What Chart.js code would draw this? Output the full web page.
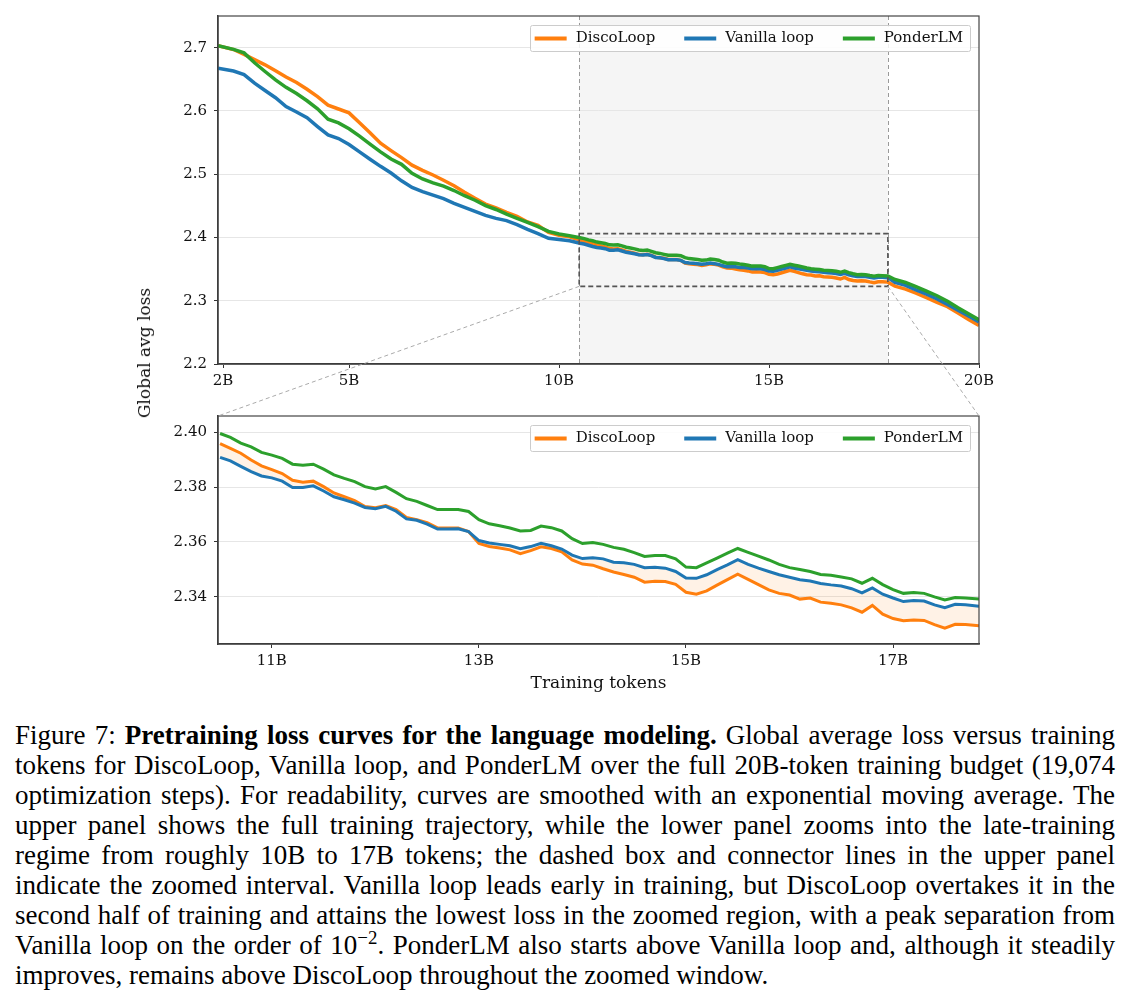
<!DOCTYPE html>
<html>
<head>
<meta charset="utf-8">
<script src="https://cdn.jsdelivr.net/npm/chart.js@4.4.1/dist/chart.umd.min.js"></script>
<style>
  body { margin: 0; background: #fff; }
  #page { position: relative; width: 1130px; height: 1001px; overflow: hidden; background: #fff; }
  .panel { position: absolute; left: 0; }
  #overlay { position: absolute; left: 0; top: 0; pointer-events: none; }
  #ylabel {
    position: absolute; left: 144px; top: 353px; white-space: nowrap;
    transform: translate(-50%, -50%) rotate(-90deg);
    font-family: "DejaVu Serif", serif; font-size: 17px; color: #111;
  }
  #caption {
    position: absolute; left: 15px; top: 720px; width: 1100px;
    font-family: "Liberation Serif", "Times New Roman", serif; font-size: 27px;
    line-height: 30px; color: #000;
  }
  #caption .ln { white-space: nowrap; text-align: justify; text-align-last: justify; height: 30px; }
  #caption .ln.last { text-align-last: left; }
  #caption sup { font-size: 0.7em; line-height: 0; vertical-align: 0.55em; }
</style>
</head>
<body>
<div id="page">
  <canvas id="topChart" class="panel" style="top:0" width="1130" height="400"></canvas>
  <canvas id="zoomChart" class="panel" style="top:400px" width="1130" height="300"></canvas>
  <canvas id="overlay" width="1130" height="700"></canvas>
  <div id="ylabel">Global avg loss</div>
  <div id="caption">
    <div class="ln">Figure 7: <b>Pretraining loss curves for the language modeling.</b> Global average loss versus training</div>
    <div class="ln">tokens for DiscoLoop, Vanilla loop, and PonderLM over the full 20B-token training budget (19,074</div>
    <div class="ln">optimization steps). For readability, curves are smoothed with an exponential moving average. The</div>
    <div class="ln">upper panel shows the full training trajectory, while the lower panel zooms into the late-training</div>
    <div class="ln">regime from roughly 10B to 17B tokens; the dashed box and connector lines in the upper panel</div>
    <div class="ln">indicate the zoomed interval. Vanilla loop leads early in training, but DiscoLoop overtakes it in the</div>
    <div class="ln">second half of training and attains the lowest loss in the zoomed region, with a peak separation from</div>
    <div class="ln">Vanilla loop on the order of 10<sup>&minus;2</sup>. PonderLM also starts above Vanilla loop and, although it steadily</div>
    <div class="ln last">improves, remains above DiscoLoop throughout the zoomed window.</div>
  </div>
</div>
<script>
// ---- data (tokens in billions) ----
const seriesNames = ['DiscoLoop', 'Vanilla loop', 'PonderLM'];

// early part of the full run (upper panel only)
const earlyTokens = [1.88, 2.25, 2.5, 2.75, 3, 3.25, 3.5, 3.75, 4, 4.25, 4.5, 4.75, 5, 5.25, 5.5, 5.75,
  6, 6.25, 6.5, 6.75, 7, 7.25, 7.5, 7.75, 8, 8.25, 8.5, 8.75, 9, 9.25, 9.5, 9.75, 10, 10.25];
const earlyDisco = [2.7031, 2.6970, 2.6893, 2.6810, 2.6728, 2.6635, 2.6536, 2.6450, 2.6343, 2.6225,
  2.6091, 2.6030, 2.5969, 2.5813, 2.5654, 2.5489, 2.5373, 2.5261, 2.5142, 2.5061, 2.4987, 2.4904,
  2.4818, 2.4714, 2.4618, 2.4528, 2.4467, 2.4396, 2.4333, 2.4245, 2.4190, 2.4080, 2.4036, 2.4011];
const earlyVanilla = [2.6675, 2.6630, 2.6575, 2.6439, 2.6322, 2.6208, 2.6068, 2.5983, 2.5892, 2.5753,
  2.5620, 2.5564, 2.5469, 2.5352, 2.5236, 2.5124, 2.5019, 2.4895, 2.4791, 2.4725, 2.4668, 2.4613,
  2.4539, 2.4476, 2.4412, 2.4349, 2.4302, 2.4266, 2.4203, 2.4129, 2.4061, 2.3986, 2.3967, 2.3947];
const earlyPonder = [2.7031, 2.6973, 2.6917, 2.6761, 2.6623, 2.6491, 2.6373, 2.6274, 2.6160, 2.6033,
  2.5868, 2.5811, 2.5717, 2.5601, 2.5475, 2.5352, 2.5239, 2.5156, 2.5013, 2.4925, 2.4862, 2.4810,
  2.4742, 2.4660, 2.4588, 2.4503, 2.4442, 2.4368, 2.4303, 2.4239, 2.4170, 2.4096, 2.4054, 2.4028];

// zoomed window (both panels)
const zoomTokens = [10.5, 10.6, 10.7, 10.8, 10.9, 11.0, 11.1, 11.2, 11.3, 11.4, 11.5, 11.6, 11.7, 11.8, 11.9,
  12.0, 12.1, 12.2, 12.3, 12.4, 12.5, 12.6, 12.7, 12.8, 12.9, 13.0, 13.1, 13.2, 13.3, 13.4, 13.5, 13.6,
  13.7, 13.8, 13.9, 14.0, 14.1, 14.2, 14.3, 14.4, 14.5, 14.6, 14.7, 14.8, 14.9, 15.0, 15.1, 15.2, 15.3,
  15.4, 15.5, 15.6, 15.7, 15.8, 15.9, 16.0, 16.1, 16.2, 16.3, 16.4, 16.5, 16.6, 16.7, 16.8, 16.9, 17.0,
  17.1, 17.2, 17.3, 17.4, 17.5, 17.6, 17.7, 17.83];
const zoomDisco = [2.3959, 2.3942, 2.3924, 2.3899, 2.3878, 2.3864, 2.3850, 2.3825, 2.3818, 2.3822,
  2.3802, 2.3779, 2.3765, 2.3751, 2.3729, 2.3725, 2.3733, 2.3718, 2.3689, 2.3681,
  2.3670, 2.3651, 2.3651, 2.3651, 2.3638, 2.3594, 2.3583, 2.3578, 2.3571, 2.3557,
  2.3568, 2.3582, 2.3576, 2.3564, 2.3534, 2.3519, 2.3515, 2.3502, 2.3490, 2.3481,
  2.3471, 2.3453, 2.3456, 2.3455, 2.3445, 2.3416, 2.3409, 2.3421, 2.3442, 2.3462,
  2.3482, 2.3463, 2.3444, 2.3425, 2.3412, 2.3406, 2.3391, 2.3395, 2.3380, 2.3376,
  2.3370, 2.3359, 2.3343, 2.3368, 2.3336, 2.3320, 2.3312, 2.3315, 2.3313, 2.3298,
  2.3285, 2.3299, 2.3298, 2.3294];
const zoomVanilla = [2.3909, 2.3896, 2.3876, 2.3857, 2.3841, 2.3834, 2.3822, 2.3799, 2.3799, 2.3805,
  2.3786, 2.3765, 2.3754, 2.3742, 2.3726, 2.3721, 2.3730, 2.3712, 2.3684, 2.3679,
  2.3665, 2.3647, 2.3647, 2.3648, 2.3638, 2.3605, 2.3596, 2.3591, 2.3586, 2.3575,
  2.3583, 2.3595, 2.3586, 2.3574, 2.3552, 2.3539, 2.3542, 2.3538, 2.3526, 2.3524,
  2.3518, 2.3506, 2.3507, 2.3504, 2.3492, 2.3468, 2.3467, 2.3480, 2.3499, 2.3516,
  2.3535, 2.3518, 2.3504, 2.3492, 2.3480, 2.3471, 2.3462, 2.3457, 2.3448, 2.3443,
  2.3439, 2.3429, 2.3414, 2.3432, 2.3409, 2.3395, 2.3382, 2.3386, 2.3384, 2.3370,
  2.3360, 2.3372, 2.3370, 2.3365];
const zoomPonder = [2.3996, 2.3982, 2.3961, 2.3947, 2.3927, 2.3917, 2.3905, 2.3884, 2.3880, 2.3884,
  2.3866, 2.3845, 2.3832, 2.3820, 2.3802, 2.3793, 2.3802, 2.3781, 2.3758, 2.3748,
  2.3733, 2.3718, 2.3718, 2.3718, 2.3711, 2.3681, 2.3666, 2.3659, 2.3651, 2.3640,
  2.3642, 2.3658, 2.3652, 2.3640, 2.3612, 2.3594, 2.3598, 2.3591, 2.3580, 2.3573,
  2.3561, 2.3547, 2.3550, 2.3550, 2.3538, 2.3508, 2.3506, 2.3523, 2.3541, 2.3559,
  2.3576, 2.3562, 2.3548, 2.3534, 2.3518, 2.3506, 2.3499, 2.3492, 2.3481, 2.3478,
  2.3472, 2.3465, 2.3449, 2.3467, 2.3444, 2.3426, 2.3412, 2.3415, 2.3412, 2.3399,
  2.3388, 2.3397, 2.3395, 2.3391];

// tail of the run (upper panel only)
const lateTokens = [18, 18.25, 18.5, 18.75, 19, 19.25, 19.5, 19.75, 20];
const lateDisco = [2.3231, 2.3184, 2.3121, 2.3049, 2.2975, 2.2906, 2.2807, 2.2704, 2.2608];
const lateVanilla = [2.3288, 2.3244, 2.3171, 2.3104, 2.3028, 2.2940, 2.2849, 2.2758, 2.2664];
const latePonder = [2.3336, 2.3289, 2.3222, 2.3153, 2.3079, 2.2991, 2.2888, 2.2794, 2.2698];

// axis ranges and ticks
const topXTicks = [2, 5, 10, 15, 20];
const topYTicks = [2.2, 2.3, 2.4, 2.5, 2.6, 2.7];
const zoomXTicks = [11, 13, 15, 17];
const zoomYTicks = [2.34, 2.36, 2.38, 2.40];
const zoomXMin = 10.48, zoomXMax = 17.83;
const zoomYMin = 2.3227, zoomYMax = 2.406;

const colors = ['#ff7f0e', '#1f77b4', '#2ca02c'];
const fontFam = '"DejaVu Serif", serif';

const topTokens = earlyTokens.concat(zoomTokens, lateTokens);
const topDisco = earlyDisco.concat(zoomDisco, lateDisco);
const topVanilla = earlyVanilla.concat(zoomVanilla, lateVanilla);
const topPonder = earlyPonder.concat(zoomPonder, latePonder);

function pts(xs, ys) {
    return xs.map((x, i) => ({ x: x, y: ys[i] }));
}

function makeDatasets(xs, series, withFill, lw) {
    return series.map((ys, i) => {
        let ds = {
            label: seriesNames[i],
            data: pts(xs, ys),
            borderColor: colors[i],
            backgroundColor: colors[i],
            borderWidth: lw,
            pointRadius: 0,
            tension: 0,
            fill: false,
            order: 2 - i  // green drawn on top, like matplotlib
        };
        if (withFill && i == 0) {
            ds.fill = { target: 1, above: 'rgba(255,127,14,0.10)', below: 'rgba(255,127,14,0.10)' };
        }
        return ds;
    });
}

function xAxis(min, max, tickVals, h, title) {
    return {
        type: 'linear', min: min, max: max,
        afterBuildTicks: s => { s.ticks = tickVals.map(v => ({ value: v })); },
        afterFit: s => { s.height = h; },
        ticks: { callback: v => v + 'B', font: { family: fontFam, size: 15 }, color: '#111', padding: 4, maxRotation: 0, autoSkip: false },
        grid: { drawOnChartArea: false, tickLength: 4, tickColor: '#333' },
        border: { color: '#333', width: 1.5 },
        title: title ? { display: true, text: title, font: { family: fontFam, size: 17 }, color: '#111', padding: { top: 0, bottom: 6 } } : { display: false }
    };
}

function yAxis(min, max, tickVals, digits) {
    return {
        type: 'linear', min: min, max: max,
        afterBuildTicks: s => { s.ticks = tickVals.map(v => ({ value: v })); },
        afterFit: s => { s.width = 60; },
        ticks: { callback: v => v.toFixed(digits), font: { family: fontFam, size: 15 }, color: '#111', padding: 7 },
        grid: { color: '#e6e6e6', lineWidth: 1, tickLength: 4, tickColor: '#333' },
        border: { color: '#333', width: 1.5 }
    };
}

// legend drawn inside the plot, top right, like matplotlib
function drawLegend(chart) {
    const ctx = chart.ctx, area = chart.chartArea;
    ctx.save();
    ctx.font = '15px ' + fontFam;
    const items = chart.data.datasets.map(ds => ({ label: ds.label, color: ds.borderColor, w: ctx.measureText(ds.label).width }));
    const lineLen = 32, gapText = 9, gapItem = 29, padL = 5, padR = 7, h = 26;
    let total = padL + padR;
    items.forEach((it, i) => { total += lineLen + gapText + it.w + (i < items.length - 1 ? gapItem : 0); });
    const right = area.right - 9, top = area.top + 9, left = right - total;
    ctx.fillStyle = 'rgba(255,255,255,0.85)';
    ctx.strokeStyle = '#cccccc';
    ctx.lineWidth = 1;
    ctx.beginPath();
    ctx.roundRect(Math.round(left) + 0.5, top + 0.5, Math.round(total), h, 2);
    ctx.fill();
    ctx.stroke();
    let x = left + padL;
    const cy = top + h / 2 + 0.5;
    items.forEach(it => {
        ctx.strokeStyle = it.color;
        ctx.lineWidth = 4;
        ctx.beginPath();
        ctx.moveTo(x, cy);
        ctx.lineTo(x + lineLen, cy);
        ctx.stroke();
        x += lineLen + gapText;
        ctx.fillStyle = '#111';
        ctx.textBaseline = 'middle';
        ctx.fillText(it.label, x, cy);
        x += it.w + gapItem;
    });
    ctx.restore();
}

function drawFrame(chart) {
    const ctx = chart.ctx, a = chart.chartArea;
    ctx.save();
    ctx.strokeStyle = '#444';
    ctx.lineWidth = 1.2;
    ctx.strokeRect(a.left, a.top, a.right - a.left, a.bottom - a.top);
    ctx.restore();
}

const topDeco = {
    id: 'topDeco',
    beforeDraw(chart) {
        const ctx = chart.ctx, a = chart.chartArea, sx = chart.scales.x;
        const x0 = sx.getPixelForValue(zoomXMin), x1 = sx.getPixelForValue(zoomXMax);
        ctx.save();
        ctx.fillStyle = '#f5f5f5';
        ctx.fillRect(x0, a.top, x1 - x0, a.bottom - a.top);
        ctx.restore();
    },
    beforeDatasetsDraw(chart) {
        const ctx = chart.ctx, a = chart.chartArea, sx = chart.scales.x;
        ctx.save();
        ctx.strokeStyle = '#999';
        ctx.lineWidth = 1;
        ctx.setLineDash([4, 3]);
        [zoomXMin, zoomXMax].forEach(v => {
            const x = Math.round(sx.getPixelForValue(v)) + 0.5;
            ctx.beginPath();
            ctx.moveTo(x, a.top);
            ctx.lineTo(x, a.bottom);
            ctx.stroke();
        });
        ctx.restore();
    },
    afterDatasetsDraw(chart) {
        const ctx = chart.ctx, sx = chart.scales.x, sy = chart.scales.y;
        const x0 = sx.getPixelForValue(zoomXMin), x1 = sx.getPixelForValue(zoomXMax);
        const y0 = sy.getPixelForValue(zoomYMax), y1 = sy.getPixelForValue(zoomYMin);
        ctx.save();
        ctx.strokeStyle = '#555';
        ctx.lineWidth = 1.6;
        ctx.setLineDash([5, 3]);
        ctx.strokeRect(x0, y0, x1 - x0, y1 - y0);
        ctx.restore();
    },
    afterDraw(chart) {
        drawFrame(chart);
        drawLegend(chart);
    }
};

const zoomDeco = {
    id: 'zoomDeco',
    afterDraw(chart) {
        drawFrame(chart);
        drawLegend(chart);
    }
};

const baseOptions = {
    responsive: false,
    animation: false,
    devicePixelRatio: 1,
    plugins: { legend: { display: false }, tooltip: { enabled: false } }
};

const topChart = new Chart(document.getElementById('topChart'), {
    type: 'line',
    data: { datasets: makeDatasets(topTokens, [topDisco, topVanilla, topPonder], false, 3.5) },
    options: Object.assign({}, baseOptions, {
        layout: { padding: { left: 158, right: 151, top: 14, bottom: 0 } },
        scales: {
            x: xAxis(1.88, 20, topXTicks, 36, null),
            y: yAxis(2.2, 2.75, topYTicks, 1)
        }
    }),
    plugins: [topDeco]
});

const zoomChart = new Chart(document.getElementById('zoomChart'), {
    type: 'line',
    data: { datasets: makeDatasets(zoomTokens, [zoomDisco, zoomVanilla, zoomPonder], true, 3) },
    options: Object.assign({}, baseOptions, {
        layout: { padding: { left: 158, right: 151, top: 8, bottom: 0 } },
        scales: {
            x: xAxis(zoomXMin, zoomXMax, zoomXTicks, 56, 'Training tokens'),
            y: yAxis(zoomYMin, zoomYMax, zoomYTicks, 2)
        }
    }),
    plugins: [zoomDeco]
});

// connector lines from the dashed box to the zoom panel
const ov = document.getElementById('overlay').getContext('2d');
const zoomTop = 400;
const bx0 = topChart.scales.x.getPixelForValue(zoomXMin);
const bx1 = topChart.scales.x.getPixelForValue(zoomXMax);
const by = topChart.scales.y.getPixelForValue(zoomYMin);
const za = zoomChart.chartArea;
ov.strokeStyle = '#aaa';
ov.lineWidth = 1;
ov.setLineDash([4, 3]);
ov.beginPath();
ov.moveTo(bx0, by);
ov.lineTo(za.left, za.top + zoomTop);
ov.moveTo(bx1, by);
ov.lineTo(za.right, za.top + zoomTop);
ov.stroke();

// shrink the caption font until every line fits the 1100px width
const capLines = document.querySelectorAll('#caption .ln');
const caption = document.getElementById('caption');
let capSize = 27;
function widestLine() {
    let m = 0;
    capLines.forEach(l => {
        l.style.display = 'inline-block';
        m = Math.max(m, l.getBoundingClientRect().width);
        l.style.display = '';
    });
    return m;
}
while (capSize > 18 && widestLine() > 1100) {
    capSize -= 0.25;
    caption.style.fontSize = capSize + 'px';
}
</script>
</body>
</html>
